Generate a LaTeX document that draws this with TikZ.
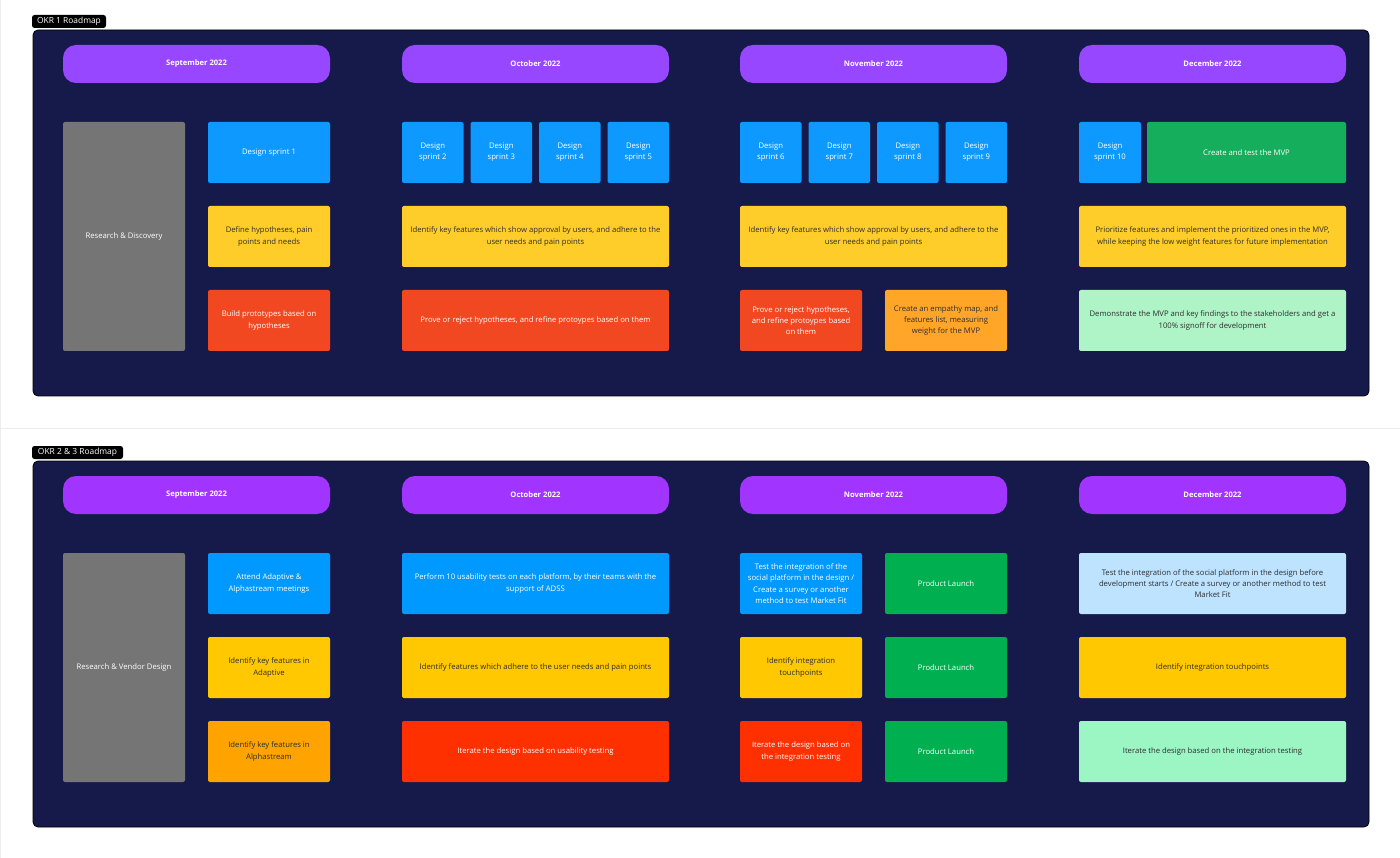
\documentclass[tikz,border=0pt]{standalone}
\usepackage{fontspec}
\setmainfont{Open Sans}
\usepackage{tikz}

\definecolor{panelbg}{HTML}{161A4A}
\definecolor{monthA}{HTML}{9747FF}
\definecolor{monthB}{HTML}{A234FF}
\definecolor{sprintblue}{HTML}{0D99FF}
\definecolor{taskblue}{HTML}{0099FF}
\definecolor{paleblue}{HTML}{BDE3FF}
\definecolor{yellowA}{HTML}{FFCD29}
\definecolor{yellowB}{HTML}{FFC800}
\definecolor{redA}{HTML}{F24822}
\definecolor{redB}{HTML}{FF3000}
\definecolor{orangeA}{HTML}{FFA629}
\definecolor{orangeB}{HTML}{FFA300}
\definecolor{greenA}{HTML}{14AE5C}
\definecolor{greenB}{HTML}{00B050}
\definecolor{mintA}{HTML}{AFF4C6}
\definecolor{mintB}{HTML}{9CF6C4}
\definecolor{stone}{HTML}{757575}
\definecolor{inkdark}{HTML}{2E2E2E}
\definecolor{rule}{HTML}{EDEDED}

\tikzset{
  panel/.style={fill=panelbg, draw=black, line width=0.8pt, rounded corners=5pt},
  tag/.style={fill=black, rounded corners=2.5pt, text=white, inner sep=0pt, minimum height=13pt, font=\fontsize{8.4}{9}\selectfont},
  month/.style={rounded corners=13pt, minimum width=267pt, minimum height=38pt, text=white, font=\bfseries\fontsize{7.6}{9}\selectfont},
  card/.style={rounded corners=2pt, inner sep=1pt, align=center, minimum width=122pt, minimum height=61pt, text=white, font=\fontsize{7.7}{11.2}\selectfont},
  wide/.style={card, minimum width=267pt},
  sprint/.style={card, minimum width=61.5pt, fill=sprintblue},
  dark/.style={text=inkdark},
}

\begin{document}
\begin{tikzpicture}[x=1pt,y=1pt,yscale=-1,xscale=1]
    \useasboundingbox (0,0) rectangle (1400,858);
    \fill[white] (0,0) rectangle (1400,858);
    
    %Straight Lines
    \draw[rule, line width=1.5pt] (0,428.5) -- (1400,428.5) ;
    \draw[rule, line width=1pt] (0.8,0) -- (0.8,858) ;
    
    %Panels
    \draw[panel] (33,30) rectangle (1369,396) ;
    \draw[panel] (33,461) rectangle (1369,827) ;
    
    % Tags
    \node (tagone) [tag, minimum width=74pt] at (69,21.5) {OKR 1 Roadmap};
    \node (tagtwo) [tag, minimum width=91pt] at (77.5,452.5) {OKR 2 \& 3 Roadmap};
    
    % ---- OKR 1 ----
    % Month Nodes
    \node (asep) [month, fill=monthA] at (196.5,64) {September 2022};
    \node (aoct) [month, fill=monthA] at (535.5,64) {October 2022};
    \node (anov) [month, fill=monthA] at (873.5,64) {November 2022};
    \node (adec) [month, fill=monthA] at (1212.5,64) {December 2022};
    
    % September
    \node (aresearch) [card, fill=stone, minimum height=229pt] at (124,236.5) {Research \& Discovery};
    \node (asprint1) [card, fill=sprintblue] at (269,152.5) {Design sprint 1};
    \node (ahypo) [card, dark, fill=yellowA] at (269,236.5) {Define hypotheses, pain\\points and needs};
    \node (aproto) [card, fill=redA] at (269,320.5) {Build prototypes based on\\hypotheses};
    
    % October
    \node (asprint2) [sprint] at (432.75,152.5) {Design\\sprint 2};
    \node (asprint3) [sprint] at (501.25,152.5) {Design\\sprint 3};
    \node (asprint4) [sprint] at (569.75,152.5) {Design\\sprint 4};
    \node (asprint5) [sprint] at (638.25,152.5) {Design\\sprint 5};
    \node (aoctkey) [wide, dark, fill=yellowA] at (535.5,236.5) {Identify key features which show approval by users, and adhere to the\\user needs and pain points};
    \node (aoctprove) [wide, fill=redA] at (535.5,320.5) {Prove or reject hypotheses, and refine protoypes based on them};
    
    % November
    \node (asprint6) [sprint] at (770.75,152.5) {Design\\sprint 6};
    \node (asprint7) [sprint] at (839.25,152.5) {Design\\sprint 7};
    \node (asprint8) [sprint] at (907.75,152.5) {Design\\sprint 8};
    \node (asprint9) [sprint] at (976.25,152.5) {Design\\sprint 9};
    \node (anovkey) [wide, dark, fill=yellowA] at (873.5,236.5) {Identify key features which show approval by users, and adhere to the\\user needs and pain points};
    \node (anovprove) [card, fill=redA] at (801,320.5) {Prove or reject hypotheses,\\and refine protoypes based\\on them};
    \node (aempathy) [card, dark, fill=orangeA] at (946,320.5) {Create an empathy map, and\\features list, measuring\\weight for the MVP};
    
    % December
    \node (asprint10) [sprint, minimum width=62pt] at (1110,152.5) {Design\\sprint 10};
    \node (amvp) [card, fill=greenA, minimum width=199pt] at (1246.5,152.5) {Create and test the MVP};
    \node (aprio) [wide, dark, fill=yellowA] at (1212.5,236.5) {Prioritize features and implement the prioritized ones in the MVP,\\while keeping the low weight features for future implementation};
    \node (ademo) [wide, dark, fill=mintA] at (1212.5,320.5) {Demonstrate the MVP and key findings to the stakeholders and get a\\100\% signoff for development};
    
    % ---- OKR 2 & 3 ----
    % Month Nodes
    \node (bsep) [month, fill=monthB] at (196.5,495) {September 2022};
    \node (boct) [month, fill=monthB] at (535.5,495) {October 2022};
    \node (bnov) [month, fill=monthB] at (873.5,495) {November 2022};
    \node (bdec) [month, fill=monthB] at (1212.5,495) {December 2022};
    
    % September
    \node (bresearch) [card, fill=stone, minimum height=229pt] at (124,667.5) {Research \& Vendor Design};
    \node (battend) [card, fill=taskblue] at (269,583.5) {Attend Adaptive \&\\Alphastream meetings};
    \node (badaptive) [card, dark, fill=yellowB] at (269,667.5) {Identify key features in\\Adaptive};
    \node (balpha) [card, dark, fill=orangeB] at (269,751.5) {Identify key features in\\Alphastream};
    
    % October
    \node (busability) [wide, fill=taskblue] at (535.5,583.5) {Perform 10 usability tests on each platform, by their teams with the\\support of ADSS};
    \node (boctkey) [wide, dark, fill=yellowB] at (535.5,667.5) {Identify features which adhere to the user needs and pain points};
    \node (biterate) [wide, fill=redB] at (535.5,751.5) {Iterate the design based on usability testing};
    
    % November
    \node (bnovtest) [card, fill=taskblue] at (801,583.5) {Test the integration of the\\social platform in the design /\\Create a survey or another\\method to test Market Fit};
    \node (bnovtouch) [card, dark, fill=yellowB] at (801,667.5) {Identify integration\\touchpoints};
    \node (bnoviter) [card, fill=redB] at (801,751.5) {Iterate the design based on\\the integration testing};
    \node (blaunch1) [card, fill=greenB] at (946,583.5) {Product Launch};
    \node (blaunch2) [card, fill=greenB] at (946,667.5) {Product Launch};
    \node (blaunch3) [card, fill=greenB] at (946,751.5) {Product Launch};
    
    % December
    \node (bdectest) [wide, dark, fill=paleblue] at (1212.5,583.5) {Test the integration of the social platform in the design before\\development starts / Create a survey or another method to test\\Market Fit};
    \node (bdectouch) [wide, dark, fill=yellowB] at (1212.5,667.5) {Identify integration touchpoints};
    \node (bdeciter) [wide, dark, fill=mintB] at (1212.5,751.5) {Iterate the design based on the integration testing};
\end{tikzpicture}
\end{document}
